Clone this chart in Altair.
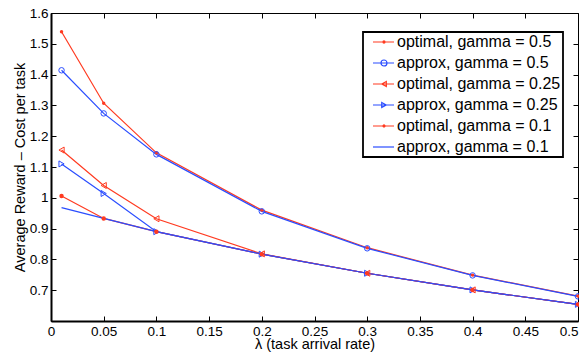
import altair as alt
import pandas as pd

# ---- data ----
lam = [0.01, 0.05, 0.1, 0.2, 0.3, 0.4, 0.5]
series_names = [
    "optimal, gamma = 0.5",
    "approx, gamma = 0.5",
    "optimal, gamma = 0.25",
    "approx, gamma = 0.25",
    "optimal, gamma = 0.1",
    "approx, gamma = 0.1",
]
opt_05 = [1.539, 1.307, 1.146, 0.960, 0.838, 0.749, 0.681]
app_05 = [1.414, 1.274, 1.141, 0.956, 0.836, 0.748, 0.680]
opt_025 = [1.155, 1.040, 0.932, 0.818, 0.755, 0.701, 0.654]
app_025 = [1.110, 1.014, 0.890, 0.817, 0.755, 0.701, 0.654]
opt_01 = [1.006, 0.933, 0.890, 0.817, 0.755, 0.701, 0.654]
app_01 = [0.968, 0.933, 0.890, 0.817, 0.755, 0.701, 0.654]
x_ticks = [0, 0.05, 0.1, 0.15, 0.2, 0.25, 0.3, 0.35, 0.4, 0.45, 0.5]
y_ticks = [0.7, 0.8, 0.9, 1.0, 1.1, 1.2, 1.3, 1.4, 1.5, 1.6]

all_vals = [opt_05, app_05, opt_025, app_025, opt_01, app_01]
rows = []
for name, vals in zip(series_names, all_vals):
    for xv, yv in zip(lam, vals):
        rows.append({"x": xv, "y": yv, "series": name})
df = pd.DataFrame(rows)

RED = "#ff3a20"
BLUE = "#2a4dff"
series_colors = [RED, BLUE, RED, BLUE, RED, BLUE]
color_of = dict(zip(series_names, series_colors))
FONT = "Liberation Sans"
W, H = 527, 308

xscale = alt.Scale(domain=[0, 0.5], nice=False, zero=False)
yscale = alt.Scale(domain=[0.6, 1.6], nice=False, zero=False)
cscale = alt.Scale(domain=series_names, range=series_colors)

# legend symbols: line + marker, in unit coordinates (shifted right)
legend_paths = [
    "M0,0H3M1.42,0A0.15,0.15 0 1,0 1.72,0A0.15,0.15 0 1,0 1.42,0",
    "M0,0H3M1.14,0A0.43,0.43 0 1,0 2,0A0.43,0.43 0 1,0 1.14,0",
    "M0,0H3M1.25,0L1.9,-0.36L1.9,0.36Z",
    "M0,0H3M1.9,0L1.25,-0.36L1.25,0.36Z",
    "M0,0H3M1.35,0H1.79M1.57,-0.22V0.22M1.41,-0.16L1.73,0.16M1.41,0.16L1.73,-0.16",
    "M0,0H3",
]

axis_common = dict(
    grid=False, labelFont=FONT, titleFont=FONT, labelColor="black",
    titleColor="black", titleFontWeight="normal", labelFontSize=13.5,
    titleFontSize=14.5,
)

x_main = alt.Axis(orient="bottom", values=x_ticks, format="~g", ticks=False,
                  domain=True, domainColor="black", domainWidth=2,
                  labelPadding=3, title="λ (task arrival rate)", titlePadding=0,
                  labelFlush=False,
                  labelAlign={"condition": {"test": "datum.value >= 0.5", "value": "right"},
                              "value": "center"},
                  **axis_common)
y_main = alt.Axis(orient="left", values=y_ticks, format="~g", ticks=False,
                  domain=True, domainColor="black", domainWidth=2,
                  labelPadding=3, title="Average Reward – Cost per task",
                  titlePadding=2, labelFlush=False, **axis_common)

def tick_axis(orient, vals, offset):
    return alt.Axis(orient=orient, values=vals, labels=False, domain=False,
                    ticks=True, tickSize=5, tickColor="black", tickWidth=1,
                    grid=False, title=None, offset=offset)

base = alt.Chart(df)

lines = base.mark_line(strokeWidth=1.2).encode(
    x=alt.X("x:Q", scale=xscale, axis=x_main),
    y=alt.Y("y:Q", scale=yscale, axis=y_main),
    color=alt.Color("series:N", scale=cscale, legend=None),
)

marker_specs = [
    (series_names[0], dict(shape="circle", filled=True, size=12)),
    (series_names[1], dict(shape="circle", filled=False, size=30)),
    (series_names[2], dict(shape="triangle-left", filled=False, size=36)),
    (series_names[3], dict(shape="triangle-right", filled=False, size=36)),
    (series_names[4], dict(shape="circle", filled=True, size=20)),
]

axis_sets = [
    (tick_axis("top", x_ticks, -H), tick_axis("right", y_ticks, -W)),
    (tick_axis("bottom", x_ticks, -H), tick_axis("left", y_ticks, -W)),
    (None, None), (None, None), (None, None),
]

point_layers = []
for (name, spec), (ax, ay) in zip(marker_specs, axis_sets):
    point_layers.append(
        base.transform_filter(alt.datum.series == name)
        .mark_point(strokeWidth=1, opacity=1, color=color_of[name], **spec)
        .encode(
            x=alt.X("x:Q", scale=xscale, axis=ax),
            y=alt.Y("y:Q", scale=yscale, axis=ay),
        )
    )

legend = alt.Legend(
    title=None, orient="none", legendX=312, legendY=19, padding=2,
    rowPadding=5, labelFontSize=16, labelFont=FONT, labelColor="black",
    labelOffset=16, symbolSize=196, symbolStrokeWidth=1.2, symbolOpacity=1,
    symbolFillColor="transparent",
    strokeColor="black", fillColor="white",
    labelExpr="datum.label + '\u00a0\u00a0\u00a0\u00a0'", labelLimit=400,
)

# legend-only layer (first, so its legend settings win the merge)
legend_layer = base.transform_filter("false").mark_point(filled=False).encode(
    x=alt.X("x:Q", scale=xscale, axis=None),
    y=alt.Y("y:Q", scale=yscale, axis=None),
    color=alt.Color("series:N", scale=cscale, legend=legend),
    shape=alt.Shape("series:N", scale=alt.Scale(domain=series_names, range=legend_paths),
                    legend=legend),
)

chart = alt.layer(legend_layer, lines, *point_layers).resolve_axis(
    x="independent", y="independent"
).properties(
    width=W, height=H,
    autosize=alt.AutoSizeParams(type="none"),
    padding={"left": 43, "top": 5, "right": 1, "bottom": 31},
).configure_view(stroke="black", strokeWidth=1).configure_legend(strokeWidth=1.8)

chart.save("out.html", embed_options={"renderer": "svg", "actions": False})
